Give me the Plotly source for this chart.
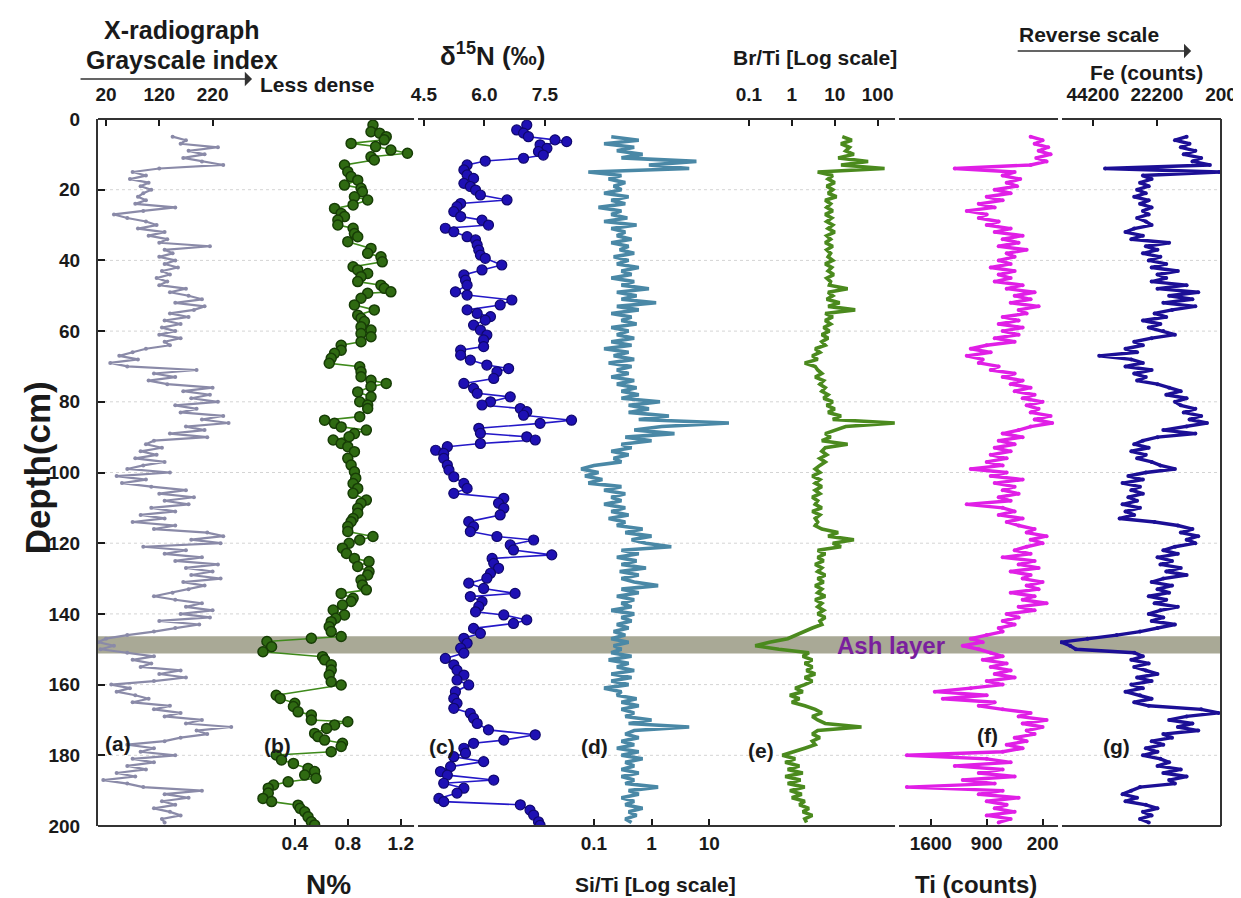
import math
import plotly.graph_objects as go

# ---------------- data ----------------
DEPTH_XRF = list(range(5, 200))  # cm, 1-cm readings

GRAY = [145,170,160,230,175,205,165,200,240,120,
        70,95,65,100,85,105,90,80,95,75,
        150,90,35,60,95,115,80,130,100,135,
        120,215,130,145,120,150,130,155,125,140,
        115,135,120,170,140,175,200,150,205,185,
        140,175,130,160,125,150,120,160,130,140,
        95,70,45,80,28,60,190,110,150,100,
        135,220,165,215,180,230,150,190,160,240,
        200,250,170,205,140,210,110,95,125,85,
        115,75,130,90,60,140,40,95,50,105,
        170,120,185,130,175,105,150,85,130,70,
        150,110,210,240,180,235,90,170,130,200,
        150,230,170,220,180,235,165,205,175,145,
        110,150,200,170,220,160,215,120,195,150,
        110,60,20,5,35,10,60,110,70,105,
        85,160,120,170,110,30,65,40,75,100,
        70,140,110,160,130,200,170,255,190,210,
        160,130,60,110,85,150,70,110,60,95,
        40,75,15,60,90,200,130,175,125,150,
        110,140,160,125,130]

SITI = [0.2,0.6,0.15,0.5,0.25,0.7,0.3,6.0,0.9,4.5,
        0.08,0.3,0.18,0.35,0.22,0.3,0.15,0.4,0.2,0.35,
        0.12,0.3,0.2,0.38,0.15,0.55,0.2,0.35,0.25,0.45,
        0.2,0.4,0.28,0.5,0.22,0.4,0.25,0.6,0.3,0.45,
        0.2,0.5,0.3,0.9,0.25,0.55,0.3,1.2,0.25,0.6,
        0.2,0.45,0.3,0.55,0.2,0.4,0.25,0.5,0.2,0.45,
        0.15,0.4,0.22,0.5,0.18,0.45,0.25,0.4,0.2,0.5,
        0.25,0.55,0.3,0.6,0.3,1.4,0.4,0.9,0.4,2.0,
        0.6,22,1.5,0.5,2.5,0.35,1.0,0.3,0.45,0.2,
        0.4,0.22,0.3,0.1,0.06,0.12,0.07,0.14,0.08,0.3,
        0.15,0.35,0.2,0.3,0.15,0.35,0.2,0.4,0.18,0.35,
        0.25,0.7,0.35,1.0,0.45,0.8,2.2,0.3,0.6,0.25,
        0.55,0.3,0.8,0.28,0.6,0.3,0.5,1.3,0.3,0.6,
        0.25,0.5,0.3,0.45,0.2,0.5,0.3,0.45,0.25,0.4,
        0.22,0.35,0.2,0.4,0.22,0.3,0.2,0.45,0.18,0.4,
        0.25,0.5,0.2,0.45,0.2,0.4,0.15,0.3,0.25,0.55,
        0.3,0.6,0.3,0.5,0.35,1.0,0.4,4.5,0.5,0.35,
        0.6,0.3,0.5,0.25,0.6,0.3,0.7,0.35,0.5,0.3,
        0.6,0.3,0.5,0.35,1.3,0.4,0.6,0.3,0.5,0.35,
        0.7,0.4,0.55,0.35,0.45]

BRTI = [15,25,14,22,18,28,12,60,14,145,
        4,9,7,10,6.5,9,7,11,6,8,
        6.5,9,6,8.5,6.5,9,7,10,6.5,8,
        6,9,6.5,8,7,9,6,8.5,7,9.5,
        6.5,8,7.5,20,7,9,6.5,13,7,30,
        6,9,6,8,5.5,7.5,5,7,5,6,
        3.5,4.5,3,4,2,3.5,4,5,3.5,5.5,
        4.5,6,5,7,5.5,9,6.5,10,7,14,
        9,250,18,10,6,8,5,20,6,5,
        6.5,4.5,6,4.5,3.5,4.5,3,4.5,3.5,5,
        3.5,4.5,3,4,3.5,5,3,4.5,3.5,4,
        3.5,5,12,7,28,9,14,4,6,4,
        5.5,3.5,5,4,6,4,5.5,3.5,5,4,
        6,3.5,5,4,5.5,4,6,4.5,5,3,
        2,1.2,0.8,0.3,0.14,0.5,2.5,1.8,3,2,
        3,2.2,3.5,2,3,2,1.2,1.8,0.9,1.5,
        1,2,3.5,5,3,4,6,42,4,3,
        4.5,3,3.5,2,1,0.6,1.2,0.7,1.5,0.8,
        1.8,0.7,1.6,0.8,2,0.9,1.7,1,2,1.5,
        2.5,1.8,3,2,2.2]

TI = [350,200,300,130,250,100,280,150,350,1300,
      550,700,480,650,520,800,600,900,700,1000,
      800,1150,900,1000,750,900,600,800,450,700,
      500,750,400,650,550,750,600,850,550,750,
      600,800,450,650,300,550,350,600,250,500,
      400,700,500,750,450,700,500,800,550,900,
      1100,850,1150,950,1000,750,850,550,700,450,
      600,350,550,300,450,200,400,250,350,100,
      300,80,350,500,700,450,750,550,800,600,
      850,650,900,700,1100,650,850,450,800,550,
      700,500,750,600,1150,700,550,750,450,650,
      500,300,400,150,350,200,400,550,350,700,
      300,500,250,600,350,450,200,400,250,600,
      300,450,150,500,300,650,500,700,550,750,
      700,900,1100,950,1200,1000,850,700,950,650,
      850,600,800,550,900,700,1100,1550,900,1450,
      800,1000,700,350,500,150,450,200,400,300,
      550,400,650,450,700,1900,900,600,1300,700,
      1000,550,1200,800,1900,700,1000,500,900,650,
      800,550,900,600,750]

FE = [12000,16000,11000,14000,9000,13000,7000,10000,4000,40000,
      800,27000,24000,28000,25000,29000,26000,30000,25000,28000,
      24000,27000,25000,29000,26000,24000,30000,33000,27000,31000,
      18000,26000,22000,27000,21000,25000,19000,24000,15000,22000,
      19000,24000,12000,22000,8000,18000,10000,20000,9000,17000,
      23000,19000,27000,21000,25000,20000,16000,24000,30000,27000,
      33000,29000,42000,31000,27000,33000,24000,30000,26000,29000,
      22000,18000,14000,19000,12000,16000,14000,9000,13000,7000,
      11000,5000,12000,20000,9000,22000,27000,30000,25000,31000,
      26000,29000,24000,21000,16000,26000,32000,27000,34000,28000,
      31000,27000,32000,29000,34000,28000,33000,30000,35000,23000,
      15000,10000,14000,8000,12000,9000,16000,20000,15000,22000,
      17000,21000,14000,19000,12000,20000,24000,17000,22000,18000,
      25000,19000,23000,15000,21000,25000,20000,24000,16000,22000,
      28000,36000,46000,55000,52000,50000,30000,27000,31000,25000,
      30000,26000,22000,29000,24000,31000,27000,33000,28000,24000,
      30000,25000,7000,1000,12000,18000,10000,15000,8000,20000,
      17000,24000,20000,26000,22000,27000,21000,18000,22000,14000,
      20000,12000,18000,16000,28000,31000,34000,29000,33000,26000,
      22000,27000,24000,28000,25000]

N_DEPTH = [1.7,3.6,4.0,5.0,5.9,6.9,7.8,8.8,9.7,10.7,
           11.6,13.0,14.9,16.3,17.3,18.7,19.6,20.6,22.0,22.9,
           24.3,25.3,26.7,27.6,28.6,30.0,30.9,32.4,33.3,34.7,
           36.6,38.0,39.0,40.4,41.8,42.7,43.7,44.6,46.0,47.0,
           47.9,48.9,49.3,50.7,52.6,54.0,55.5,56.4,57.3,58.8,
           59.7,60.7,61.6,63.0,64.0,65.4,66.3,67.7,69.1,70.1,
           71.5,72.9,73.9,74.8,75.7,77.2,78.6,80.0,80.9,81.9,
           84.2,85.2,86.1,87.1,88.0,89.0,89.9,90.8,91.8,92.7,
           94.1,96.0,97.9,
           99.8,101.6,103.1,104.5,105.9,107.8,108.7,110.1,111.5,113.0,
           113.9,115.3,116.7,118.1,119.1,120.0,121.4,122.9,124.3,125.2,
           126.6,128.0,129.0,130.4,131.8,133.2,134.2,135.6,136.5,137.5,
           138.9,140.3,141.2,142.2,143.6,145.0,146.4,146.9,147.8,149.3,
           150.7,152.1,153.0,154.4,155.9,157.3,159.2,160.1,163.0,163.9,
           165.3,166.2,167.7,168.6,170.0,170.5,171.4,172.4,173.8,174.7,
           175.7,176.6,177.5,179.0,179.9,181.3,182.3,183.7,184.6,185.6,
           186.5,187.5,188.4,189.3,190.7,192.2,193.1,194.1,195.0,196.0,
           197.4,198.8,199.7]
N_PCT = [0.99,0.975,1.04,1.09,1.075,0.825,1.01,1.125,1.25,0.975,
         1.0,0.775,0.8,0.825,0.875,0.775,0.9,0.91,0.85,0.95,
         0.84,0.70,0.75,0.775,0.725,0.725,0.84,0.85,0.875,0.80,
         0.975,0.95,1.05,1.06,0.84,0.875,0.95,0.90,0.875,1.05,
         1.075,1.125,0.95,0.90,0.85,1.0,0.875,0.90,0.925,0.90,
         0.975,0.90,0.975,0.90,0.75,0.75,0.70,0.675,0.66,0.89,
         0.90,0.90,0.975,1.09,0.975,0.875,0.975,0.89,0.95,0.95,
         0.89,0.625,0.70,0.75,0.94,0.85,0.81,0.69,0.75,0.80,
         0.85,0.80,0.825,
         0.85,0.86,0.84,0.875,0.84,0.94,0.90,0.875,0.875,0.84,
         0.825,0.80,0.80,0.99,0.89,0.81,0.76,0.79,0.85,0.96,
         0.875,0.96,0.95,0.90,0.91,0.94,0.75,0.84,0.825,0.76,
         0.69,0.775,0.71,0.675,0.66,0.675,0.75,0.525,0.19,0.225,
         0.16,0.61,0.625,0.675,0.675,0.66,0.675,0.75,0.26,0.29,
         0.40,0.39,0.425,0.525,0.525,0.80,0.70,0.64,0.55,0.575,
         0.625,0.76,0.75,0.675,0.26,0.30,0.39,0.50,0.55,0.475,
         0.56,0.35,0.24,0.20,0.20,0.16,0.225,0.425,0.44,0.475,
         0.50,0.525,0.55]

D15N_DEPTH = [1.7,3.1,4.0,5.0,5.9,6.4,7.3,8.3,9.2,10.2,
              11.1,11.9,13.0,14.4,15.8,16.8,18.2,19.1,20.1,21.5,
              22.9,23.9,24.8,26.2,27.6,28.6,30.0,30.9,31.9,33.3,
              34.2,35.6,37.1,38.5,39.4,41.3,42.7,44.1,45.6,47.0,
              48.9,49.8,51.2,52.6,54.0,55.0,55.9,56.9,58.3,59.7,
              61.1,62.5,64.4,65.4,66.8,68.2,69.6,70.6,71.5,73.4,
              74.8,76.2,77.6,78.6,80.0,80.9,81.9,82.8,83.8,85.2,
              86.1,87.5,88.9,89.9,90.8,91.8,92.7,93.7,94.6,96.0,
              97.9,
              99.3,101.2,103.1,104.5,105.9,107.3,108.7,110.1,112.0,113.9,
              115.3,116.7,118.1,119.1,120.5,121.9,123.3,124.3,125.7,127.1,
              128.5,129.9,131.3,132.8,134.2,135.1,136.5,137.9,139.4,140.3,
              141.7,142.7,144.1,145.5,146.9,148.3,149.7,151.1,152.6,154.4,
              155.9,157.3,158.7,160.1,162.0,163.9,165.3,166.7,168.1,169.5,
              171.0,172.8,174.2,175.7,176.6,178.0,179.4,180.4,181.8,183.2,
              184.6,185.6,187.0,187.9,189.3,190.7,192.2,193.1,194.0,195.5,
              196.9,198.8,199.8]
D15N = [7.05,6.80,6.97,7.09,7.75,8.04,7.38,7.55,7.34,7.46,
        6.97,6.02,5.57,5.49,5.57,5.73,5.49,5.65,5.78,5.90,
        6.56,5.41,5.32,5.24,5.41,5.94,6.10,5.03,5.24,5.57,
        5.78,5.82,5.86,5.90,6.02,6.43,5.94,5.49,5.53,5.57,
        5.28,5.57,6.68,6.39,5.57,5.82,6.15,6.02,5.73,5.90,
        6.06,5.98,5.98,5.41,5.41,5.65,6.06,6.60,6.31,6.23,
        5.49,5.73,5.82,6.64,6.15,5.94,6.89,7.05,6.97,8.16,
        7.38,5.86,5.90,7.05,7.26,5.90,5.08,4.79,4.99,4.99,
        5.08,
        5.12,5.24,5.49,5.57,5.24,6.48,6.35,6.48,6.39,5.61,
        5.73,5.65,6.31,7.22,6.64,6.72,7.67,6.19,6.23,6.35,
        6.15,6.06,5.61,5.98,6.76,5.65,5.94,5.86,5.78,6.48,
        7.05,6.72,5.73,5.90,5.49,5.57,5.41,5.49,5.03,5.24,
        5.32,5.49,5.32,5.61,5.28,5.24,5.32,5.24,5.65,5.73,
        5.82,6.10,7.26,6.48,5.73,5.49,5.53,5.24,5.98,5.16,
        4.91,5.08,6.23,4.99,5.49,5.32,4.87,4.99,6.89,7.13,
        7.22,7.34,7.38]

ASH_TOP, ASH_BOTTOM = 146.3, 151.2
DEPTH_TICKS = list(range(0, 201, 20))

# ---------------- layout geometry (pixels) ----------------
W, H = 1241, 898
L, R, T, B = 90, 1220, 111, 818
PW, PH = R - L, B - T

def fx(px):
    return (px - L) / PW

def fy(py):
    return (B - py) / PH

FONT = "Arial, Liberation Sans, sans-serif"
INK = "#1a1a1a"

fig = go.Figure()

def line_trace(x, y, xa, color, width=2.0, msize=0):
    mode = "lines+markers" if msize else "lines"
    return go.Scatter(x=x, y=y, xaxis=xa, yaxis="y", mode=mode,
                      line=dict(color=color, width=width),
                      marker=dict(size=msize, color=color),
                      showlegend=False, hoverinfo="skip")

fig.add_trace(line_trace(GRAY, DEPTH_XRF, "x", "#8a8aa8", 2.2, 4))
fig.add_trace(go.Scatter(x=N_PCT, y=N_DEPTH, xaxis="x2", yaxis="y",
                         mode="lines+markers",
                         line=dict(color="#3f8a1c", width=1.6),
                         marker=dict(size=10, color="#2f6a12",
                                     line=dict(color="#173d06", width=1.5)),
                         showlegend=False, hoverinfo="skip"))
fig.add_trace(go.Scatter(x=D15N, y=D15N_DEPTH, xaxis="x3", yaxis="y",
                         mode="lines+markers",
                         line=dict(color="#2418c8", width=1.6),
                         marker=dict(size=10, color="#1e10b4",
                                     line=dict(color="#10086e", width=1.2)),
                         showlegend=False, hoverinfo="skip"))
fig.add_trace(line_trace(SITI, DEPTH_XRF, "x4", "#4a88a6", 3.6))
fig.add_trace(line_trace(BRTI, DEPTH_XRF, "x5", "#4b8a1e", 3.6))
fig.add_trace(line_trace(TI, DEPTH_XRF, "x6", "#e01fe6", 3.4, 4))
fig.add_trace(line_trace(FE, DEPTH_XRF, "x7", "#1c0f96", 3.4, 4))

tickfont = dict(family=FONT, size=19, color=INK, weight="bold")

def xaxis(px0, px1, rng, side, tickvals, ticktext, typ="linear"):
    return dict(domain=[fx(px0), fx(px1)], range=rng, type=typ, anchor="y",
                side=side, showgrid=False, zeroline=False, showline=False,
                ticks="inside", ticklen=7, tickwidth=1.6, tickcolor=INK,
                tickvals=tickvals, ticktext=ticktext, tickfont=tickfont,
                ticklabelstandoff=(13 if side == "top" else 4))

def lin_range(px0, px1, v_a, p_a, v_b, p_b):
    k = (p_b - p_a) / (v_b - v_a)
    return [v_a + (px0 - p_a) / k, v_a + (px1 - p_a) / k]

def log_range(px0, px1, v_a, p_a, v_b, p_b):
    la, lb = math.log10(v_a), math.log10(v_b)
    k = (p_b - p_a) / (lb - la)
    return [la + (px0 - p_a) / k, la + (px1 - p_a) / k]

layout = dict(
    width=W, height=H,
    margin=dict(l=L, r=W - R, t=T, b=H - B, pad=0),
    paper_bgcolor="white", plot_bgcolor="rgba(0,0,0,0)",
    showlegend=False,
    font=dict(family=FONT, color=INK),
    yaxis=dict(domain=[0, 1], range=[200, 0], anchor="x",
               tickvals=DEPTH_TICKS, ticks="inside", ticklen=7, tickwidth=1.6,
               tickcolor=INK, tickfont=tickfont, showgrid=False, zeroline=False,
               showline=True, linewidth=2, linecolor="#333", ticklabelstandoff=12),
    xaxis=xaxis(L, 245, lin_range(L, 245, 20, 98, 220, 205.3), "top",
                [20, 120, 220], ["20", "120", "220"]),
    xaxis2=xaxis(225, 410, lin_range(225, 410, 0.4, 288, 1.2, 394.7), "bottom",
                 [0.4, 0.8, 1.2], ["0.4", "0.8", "1.2"]),
    xaxis3=xaxis(410, 582, lin_range(410, 582, 4.5, 418, 7.5, 539.7), "top",
                 [4.5, 6.0, 7.5], ["4.5", "6.0", "7.5"]),
    xaxis4=xaxis(572, 748, log_range(572, 748, 0.1, 589, 10, 705), "bottom",
                 [0.1, 1, 10], ["0.1", "1", "10"], "log"),
    xaxis5=xaxis(740, 894, log_range(740, 894, 0.1, 745, 100, 874.5), "top",
                 [0.1, 1, 10, 100], ["0.1", "1", "10", "100"], "log"),
    xaxis6=xaxis(894, 1058, lin_range(894, 1058, 1600, 928, 200, 1040.5), "bottom",
                 [1600, 900, 200], ["1600", "900", "200"]),
    xaxis7=xaxis(1058, R, lin_range(1058, R, 44200, 1091, 200, 1220), "top",
                 [44200, 22200, 200], ["44200", "22200", "200"]),
)
fig.update_layout(**layout)

shapes = []
# ash band
shapes.append(dict(type="rect", xref="paper", yref="y", x0=0, x1=1,
                   y0=ASH_TOP, y1=ASH_BOTTOM, fillcolor="#a9a996",
                   line=dict(width=0), layer="below"))
# dotted depth grid
for d in DEPTH_TICKS[1:-1]:
    shapes.append(dict(type="line", xref="paper", yref="y", x0=0, x1=1, y0=d, y1=d,
                       line=dict(color="#d4d4d4", width=1, dash="dot"), layer="below"))
# frame segments
segs = [(L, 408), (412, 892), (896, 1056), (1060, R)]
for a, b in segs:
    for yy in (0, 1):
        shapes.append(dict(type="line", xref="paper", yref="paper",
                           x0=fx(a), x1=fx(b), y0=yy, y1=yy,
                           line=dict(color="#333", width=2)))
shapes.append(dict(type="line", xref="paper", yref="paper", x0=1, x1=1, y0=0, y1=1,
                   line=dict(color="#333", width=2)))
fig.update_layout(shapes=shapes)

ann = []
def text(px, py, s, size, color=INK, angle=0):
    ann.append(dict(x=fx(px), y=fy(py), xref="paper", yref="paper", text=s,
                    showarrow=False, textangle=angle, xanchor="center", yanchor="middle",
                    font=dict(family=FONT, size=size, color=color, weight="bold")))

text(175, 22, "X-radiograph", 25)
text(175, 52, "Grayscale index", 25)
text(310, 77, "Less dense", 21)
text(487, 47, "δ<sup>15</sup>N (‰)", 26)
text(811, 49, "Br/Ti [Log scale]", 21)
text(1087, 27, "Reverse scale", 21)
text(1145, 65, "Fe (counts)", 21)
text(322, 876, "N%", 28)
text(651, 877, "Si/Ti [Log scale]", 21)
text(973, 877, "Ti (counts)", 24)
text(30, 460, "Depth(cm)", 35, angle=-90)
for lab, px, py in [("(a)", 110, 735), ("(b)", 271, 737), ("(c)", 436, 738),
                    ("(d)", 590, 738), ("(e)", 757, 742), ("(f)", 985, 727),
                    ("(g)", 1115, 738)]:
    text(px, py, lab, 21)
text(888, 637, "Ash layer", 24, color="#7a1f9e")

for x0, x1, py in [(72, 245, 71), (1015, 1190, 43)]:
    ann.append(dict(x=fx(x1), y=fy(py), xref="paper", yref="paper", text="",
                    showarrow=True, ax=-(x1 - x0), ay=0, axref="pixel", ayref="pixel",
                    arrowhead=1, arrowsize=1.6, arrowwidth=1.5, arrowcolor="#333"))
fig.update_layout(annotations=ann)

fig.write_html("out.html")
